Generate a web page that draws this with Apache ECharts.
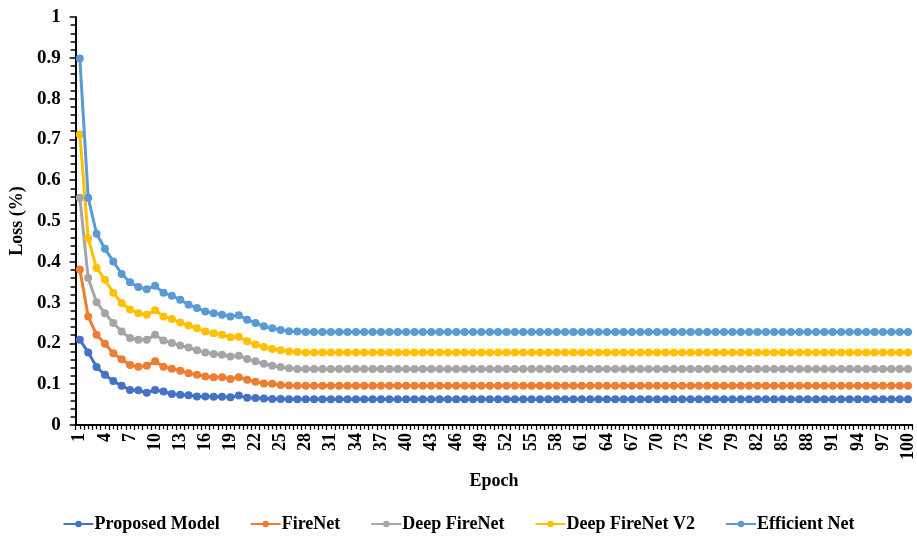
<!DOCTYPE html>
<html>
<head>
<meta charset="utf-8">
<script src="https://cdn.jsdelivr.net/npm/echarts@6/dist/echarts.min.js"></script>
<style>
html,body{margin:0;padding:0;background:#fff;}
#chart{width:917px;height:536px;}
</style>
</head>
<body>
<div id="chart"></div>
<script>
const epochs = ['1','2','3','4','5','6','7','8','9','10','11','12','13','14','15','16','17','18','19','20',
'21','22','23','24','25','26','27','28','29','30','31','32','33','34','35','36','37','38','39','40',
'41','42','43','44','45','46','47','48','49','50','51','52','53','54','55','56','57','58','59','60',
'61','62','63','64','65','66','67','68','69','70','71','72','73','74','75','76','77','78','79','80',
'81','82','83','84','85','86','87','88','89','90','91','92','93','94','95','96','97','98','99','100'];

const proposedModel = [0.209,0.178,0.142,0.123,0.108,0.096,0.086,0.085,0.079,0.086,
0.082,0.076,0.074,0.073,0.070,0.070,0.069,0.069,0.068,0.072,
0.067,0.066,0.065,0.064,0.064,0.063,0.063,0.063,0.063,0.063,
0.063,0.063,0.063,0.063,0.063,0.063,0.063,0.063,0.063,0.063,
0.063,0.063,0.063,0.063,0.063,0.063,0.063,0.063,0.063,0.063,
0.063,0.063,0.063,0.063,0.063,0.063,0.063,0.063,0.063,0.063,
0.063,0.063,0.063,0.063,0.063,0.063,0.063,0.063,0.063,0.063,
0.063,0.063,0.063,0.063,0.063,0.063,0.063,0.063,0.063,0.063,
0.063,0.063,0.063,0.063,0.063,0.063,0.063,0.063,0.063,0.063,
0.063,0.063,0.063,0.063,0.063,0.063,0.063,0.063,0.063,0.063];

const fireNet = [0.381,0.266,0.221,0.199,0.176,0.161,0.147,0.143,0.145,0.156,
0.143,0.138,0.133,0.127,0.123,0.119,0.117,0.117,0.113,0.117,
0.111,0.106,0.102,0.101,0.098,0.097,0.096,0.096,0.096,0.096,
0.096,0.096,0.096,0.096,0.096,0.096,0.096,0.096,0.096,0.096,
0.096,0.096,0.096,0.096,0.096,0.096,0.096,0.096,0.096,0.096,
0.096,0.096,0.096,0.096,0.096,0.096,0.096,0.096,0.096,0.096,
0.096,0.096,0.096,0.096,0.096,0.096,0.096,0.096,0.096,0.096,
0.096,0.096,0.096,0.096,0.096,0.096,0.096,0.096,0.096,0.096,
0.096,0.096,0.096,0.096,0.096,0.096,0.096,0.096,0.096,0.096,
0.096,0.096,0.096,0.096,0.096,0.096,0.096,0.096,0.096,0.096];

const deepFireNet = [0.557,0.360,0.301,0.274,0.250,0.229,0.213,0.209,0.209,0.221,
0.207,0.201,0.195,0.190,0.183,0.178,0.174,0.172,0.168,0.170,
0.162,0.156,0.150,0.145,0.142,0.139,0.137,0.137,0.137,0.137,
0.137,0.137,0.137,0.137,0.137,0.137,0.137,0.137,0.137,0.137,
0.137,0.137,0.137,0.137,0.137,0.137,0.137,0.137,0.137,0.137,
0.137,0.137,0.137,0.137,0.137,0.137,0.137,0.137,0.137,0.137,
0.137,0.137,0.137,0.137,0.137,0.137,0.137,0.137,0.137,0.137,
0.137,0.137,0.137,0.137,0.137,0.137,0.137,0.137,0.137,0.137,
0.137,0.137,0.137,0.137,0.137,0.137,0.137,0.137,0.137,0.137,
0.137,0.137,0.137,0.137,0.137,0.137,0.137,0.137,0.137,0.137];

const deepFireNetV2 = [0.712,0.457,0.385,0.356,0.324,0.299,0.283,0.274,0.270,0.281,
0.266,0.260,0.251,0.244,0.237,0.229,0.225,0.221,0.215,0.216,
0.205,0.197,0.191,0.186,0.183,0.180,0.179,0.178,0.178,0.178,
0.178,0.178,0.178,0.178,0.178,0.178,0.178,0.178,0.178,0.178,
0.178,0.178,0.178,0.178,0.178,0.178,0.178,0.178,0.178,0.178,
0.178,0.178,0.178,0.178,0.178,0.178,0.178,0.178,0.178,0.178,
0.178,0.178,0.178,0.178,0.178,0.178,0.178,0.178,0.178,0.178,
0.178,0.178,0.178,0.178,0.178,0.178,0.178,0.178,0.178,0.178,
0.178,0.178,0.178,0.178,0.178,0.178,0.178,0.178,0.178,0.178,
0.178,0.178,0.178,0.178,0.178,0.178,0.178,0.178,0.178,0.178];

const efficientNet = [0.898,0.557,0.469,0.432,0.401,0.370,0.350,0.338,0.333,0.341,
0.324,0.317,0.307,0.295,0.287,0.278,0.274,0.270,0.266,0.269,
0.258,0.250,0.242,0.237,0.233,0.230,0.229,0.228,0.228,0.228,
0.228,0.228,0.228,0.228,0.228,0.228,0.228,0.228,0.228,0.228,
0.228,0.228,0.228,0.228,0.228,0.228,0.228,0.228,0.228,0.228,
0.228,0.228,0.228,0.228,0.228,0.228,0.228,0.228,0.228,0.228,
0.228,0.228,0.228,0.228,0.228,0.228,0.228,0.228,0.228,0.228,
0.228,0.228,0.228,0.228,0.228,0.228,0.228,0.228,0.228,0.228,
0.228,0.228,0.228,0.228,0.228,0.228,0.228,0.228,0.228,0.228,
0.228,0.228,0.228,0.228,0.228,0.228,0.228,0.228,0.228,0.228];

const seriesNames = ['Proposed Model','FireNet','Deep FireNet','Deep FireNet V2','Efficient Net'];
const seriesData = [proposedModel, fireNet, deepFireNet, deepFireNetV2, efficientNet];
const seriesColors = ['#4472C4','#ED7D31','#A5A5A5','#FFC000','#5B9BD5'];

const FONT = '"Liberation Serif", "Times New Roman", serif';

const chart = echarts.init(document.getElementById('chart'), null, {renderer:'canvas'});
chart.setOption({
  animation: false,
  backgroundColor: '#ffffff',
  textStyle: {fontFamily: FONT},
  grid: {left: 72, top: 17, right: -3, bottom: 111, containLabel: false},
  legend: {
    top: 510, left: 'center',
    itemWidth: 30, itemHeight: 8, itemGap: 30,
    textStyle: {fontFamily: FONT, fontWeight: 'bold', fontSize: 18, color: '#000', padding: [0,0,0,-4]},
    data: seriesNames
  },
  xAxis: [{
    type: 'category',
    data: epochs,
    boundaryGap: true,
    name: 'Epoch',
    nameLocation: 'middle',
    nameGap: 47,
    nameTextStyle: {fontFamily: FONT, fontWeight: 'bold', fontSize: 18, color: '#000'},
    axisLine: {lineStyle: {color: '#000', width: 2}},
    axisTick: {show: true, interval: 0, length: 5, lineStyle: {color: '#000', width: 1.2}},
    axisLabel: {interval: 2, rotate: 90, margin: 8, fontFamily: FONT, fontWeight: 'bold', fontSize: 18, color: '#000'},
    splitLine: {show: false},
    z: 10
  }, {
    type: 'category',
    data: epochs,
    boundaryGap: true,
    position: 'bottom',
    axisLine: {show: false},
    axisTick: {show: true, interval: 0, alignWithLabel: true, length: 4, lineStyle: {color: '#000', width: 1.2}},
    axisLabel: {show: false},
    splitLine: {show: false}
  }],
  yAxis: {
    type: 'value',
    min: 0, max: 1, interval: 0.1,
    name: 'Loss (%)',
    nameLocation: 'middle',
    nameGap: 47,
    nameTextStyle: {fontFamily: FONT, fontWeight: 'bold', fontSize: 18, color: '#000'},
    axisLine: {show: true, lineStyle: {color: '#000', width: 2}},
    axisTick: {show: true, length: 6, lineStyle: {color: '#000', width: 1.5}},
    minorTick: {show: true, splitNumber: 5, length: 5, lineStyle: {color: '#000', width: 1.5}},
    axisLabel: {margin: 15, fontFamily: FONT, fontWeight: 'bold', fontSize: 19, color: '#000',
      formatter: function(v){ return String(Math.round(v*10)/10); }},
    splitLine: {show: false}
  },
  series: seriesNames.map(function(n, i){
    return {
      name: n,
      type: 'line',
      data: seriesData[i],
      symbol: 'circle',
      symbolSize: 8,
      showAllSymbol: true,
      itemStyle: {color: seriesColors[i]},
      lineStyle: {color: seriesColors[i], width: 3},
      z: 2 + i
    };
  })
});
</script>
</body>
</html>
